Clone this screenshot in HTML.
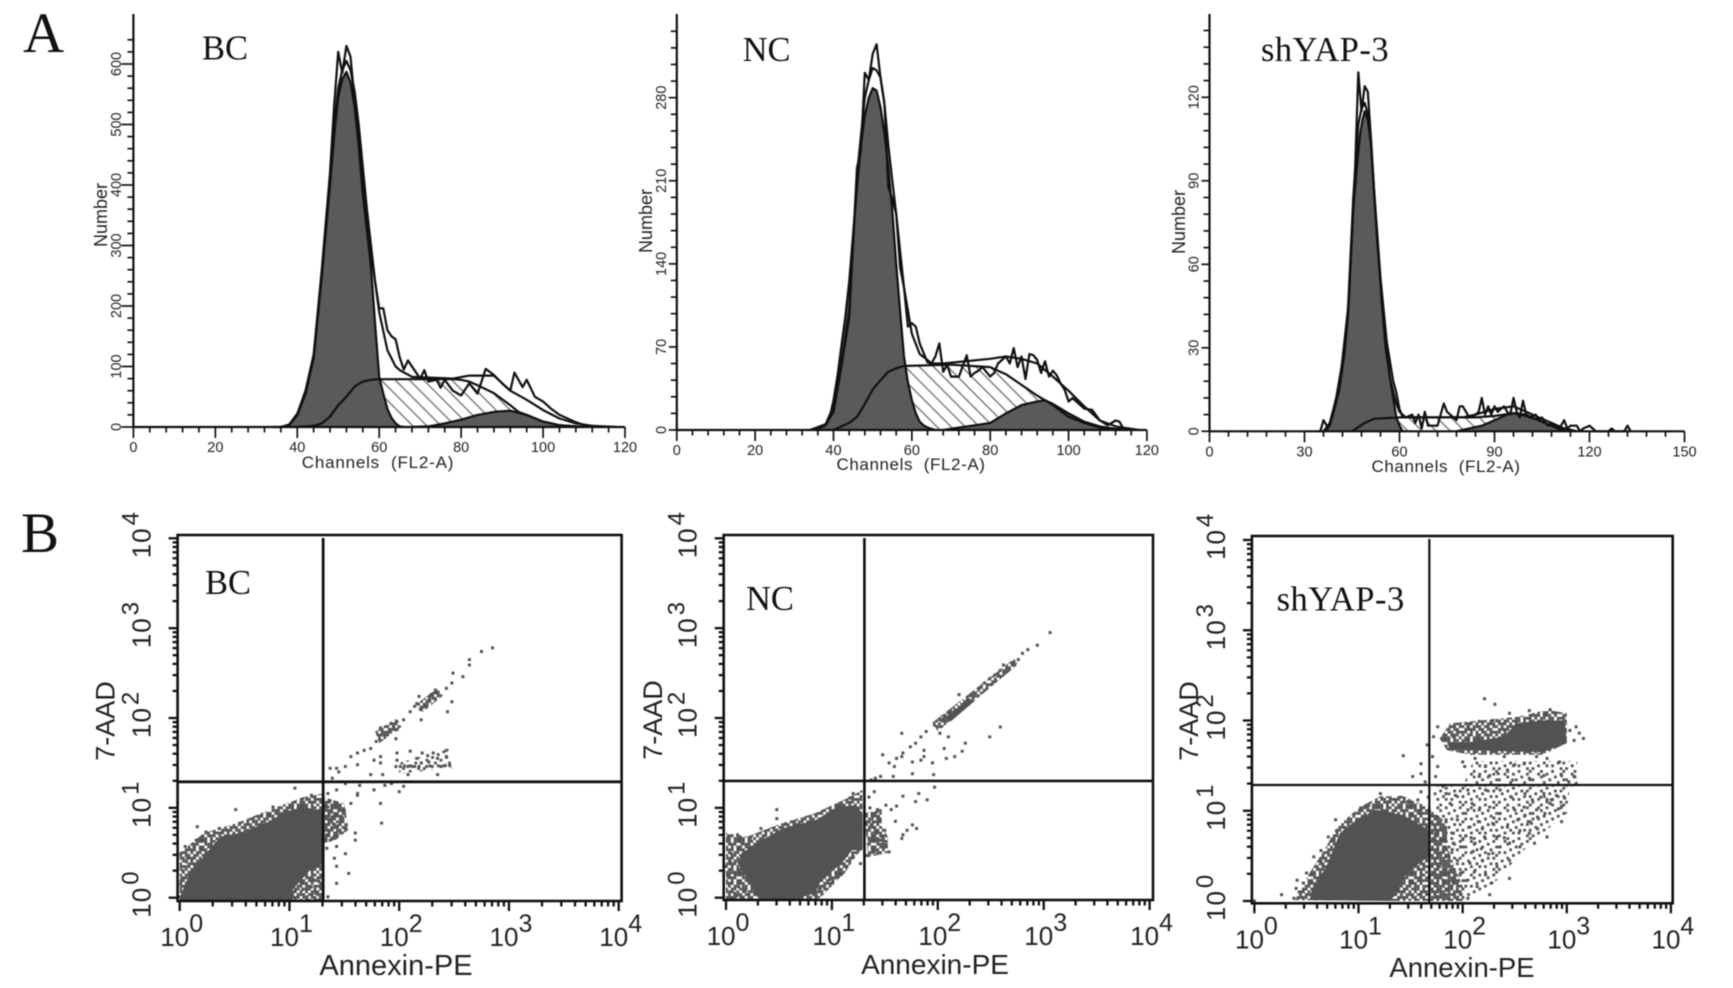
<!DOCTYPE html>
<html lang="en">
<head>
<meta charset="utf-8">
<title>Cell cycle histograms and apoptosis dot plots</title>
<style>
  html, body { margin: 0; padding: 0; background: #fff; }
  svg { display: block; filter: blur(0.45px); }
  .serif { font-family: "Liberation Serif", serif; fill: #111; }
  .sans { font-family: "Liberation Sans", sans-serif; fill: #222; }
</style>
</head>
<body>
<svg id="figure" width="1733" height="988" viewBox="0 0 1733 988" xmlns="http://www.w3.org/2000/svg">
  <defs>
    <pattern id="hatch" patternUnits="userSpaceOnUse" width="10" height="10" patternTransform="rotate(-45)">
      <rect width="10" height="10" fill="#fff"></rect>
      <rect x="0" y="0" width="1.5" height="10" fill="#808080"></rect>
    </pattern>
    <pattern id="stipple" patternUnits="userSpaceOnUse" width="33.6" height="33.6"></pattern>
    <pattern id="stipple-sparse" patternUnits="userSpaceOnUse" width="33.6" height="33.6"></pattern>
  </defs>
  <rect width="1733" height="988" fill="#fff"></rect>

  <text class="serif" x="23" y="52" font-size="57">A</text>
  <text class="serif" x="21" y="552" font-size="57">B</text>

  <g id="hist-bc">
    <text class="serif" x="202" y="59.5" font-size="34.5">BC</text>
    <text class="sans" x="378" y="468" font-size="17" text-anchor="middle" letter-spacing="0.8" xml:space="preserve">Channels  (FL2-A)</text>
    <text class="sans" transform="translate(107,215) rotate(-90)" font-size="18" text-anchor="middle">Number</text>
  </g>
  <g id="hist-nc">
    <text class="serif" x="742.6" y="61" font-size="34.5">NC</text>
    <text class="sans" x="911" y="470" font-size="17" text-anchor="middle" letter-spacing="0.6" xml:space="preserve">Channels  (FL2-A)</text>
    <text class="sans" transform="translate(652,221) rotate(-90)" font-size="18" text-anchor="middle">Number</text>
  </g>
  <g id="hist-sh">
    <text class="serif" x="1261" y="61" font-size="34.5" letter-spacing="0.5">shYAP-3</text>
    <text class="sans" x="1446" y="472" font-size="17" text-anchor="middle" letter-spacing="0.6" xml:space="preserve">Channels  (FL2-A)</text>
    <text class="sans" transform="translate(1185,222) rotate(-90)" font-size="18" text-anchor="middle">Number</text>
  </g>

  <g id="dot-bc">
    <text class="sans" x="396" y="975" font-size="29" text-anchor="middle">Annexin-PE</text>
    <text class="sans" transform="translate(114.5,721) rotate(-90)" font-size="27" text-anchor="middle">7-AAD</text>
  </g>
  <g id="dot-nc">
    <text class="sans" x="935" y="974" font-size="28" text-anchor="middle">Annexin-PE</text>
    <text class="sans" transform="translate(662,720) rotate(-90)" font-size="27" text-anchor="middle">7-AAD</text>
  </g>
  <g id="dot-sh">
    <text class="sans" x="1462" y="977" font-size="27.5" text-anchor="middle">Annexin-PE</text>
    <text class="sans" transform="translate(1198,721) rotate(-90)" font-size="27" text-anchor="middle">7-AAD</text>
  </g>
  <g id="dot-labels"></g>
</svg>

<script>
/* ---------- Panel A: BC histogram ---------- */
const bcG1Ch = [34,36,38,40,42,44,46,48,49,50,51,52,53,54,55,56,57,58,59,60,61,62,63,64,65,66];
const bcG1 = [0,0,3,20,55,115,250,400,480,545,575,587,570,530,465,385,325,265,170,83,55,30,15,6,1,0];
const bcSCh = [40,44,46,48,50,52,54,56,58,60,70,78,80,82,84,88,92,94,96,100,104,108,110];
const bcS = [0,2,6,17,36,50,67,75,78,79,79,79,78,75,69,56,36,25,20,9,3,1,0];
const bcG2Ch = [68,72,76,80,84,88,92,96,100,104,108,110];
const bcG2 = [0,1,6,12,20,25,27,20,9,3,1,0];
const bcFitCh = [36,38,40,42,44,46,48,49,50,51,52,53,54,55,56,57,58,59,60,62,64,65,68,78,82,88,92,96,100,104,108,112,118];
const bcFit = [0,3,20,55,115,255,410,495,560,590,605,590,555,500,430,360,300,240,190,127,100,94,83,80,85,85,60,45,28,14,6,2,0];
const bcRawCh = [36,38,40,42,44,46,48,49,50,51,52,53,54,55,56,57,58,59,60,61,62,63,64,65,66,67,68,70,71,72,74,75,76,78,80,82,84,86,88,90,92,93,95,96,98,100,102,104,106,108,110,112,114];
const bcRaw = [0,4,22,60,120,260,420,530,620,585,630,612,540,480,400,345,290,240,196,196,160,150,145,115,95,110,100,80,94,75,78,65,78,60,52,72,55,96,86,72,60,90,66,78,50,42,30,20,14,8,3,2,0];
const bcYTicks = ["0","100","200","300","400","500","600"];
const bcXTicks = ["0","20","40","60","80","100","120"];

/* ---------- Panel A: NC histogram ---------- */
const ncG1Ch = [34,36,38,39,40,41,42,43,44,45,46,47,48,49,50,51,52,53,54,55,56,57,58,59,60,61,62,63,64,65,66];
const ncG1 = [0,1,4,10,25,45,70,95,125,165,205,240,265,280,288,286,272,250,222,185,140,100,62,40,25,14,7,4,2,1,0];
const ncSCh = [40,44,46,48,50,52,54,56,58,59,70,80,82,84,88,92,96,100,104,108,112];
const ncS = [0,6,11,22,34,42,49,52,54,54,55,53,50,47,38,29,21,11,6,2,0];
const ncG2Ch = [68,72,76,80,84,88,92,94,96,100,104,108,112,116];
const ncG2 = [0,2,4,6,14,21,24,25,22,14,7,3,1,0];
const ncFitCh = [34,38,40,42,44,46,48,49,50,51,52,53,54,55,56,58,60,62,64,65,68,80,84,88,92,96,100,104,108,112,116,118];
const ncFit = [0,5,20,55,100,215,280,295,305,303,297,275,240,210,182,120,81,64,59,56,56,60,62,60,56,45,33,20,8,3,1,0];
const ncRawCh = [36,38,40,42,44,46,47,48,49,50,51,52,53,54,55,56,57,58,59,60,61,62,63,64,65,66,67,68,69,70,72,74,75,76,77,78,80,81,82,84,85,86,87,88,89,90,91,92,93,94,95,96,97,98,99,100,101,102,104,106,108,110,112,113,114];
const ncRaw = [0,5,15,53,95,221,235,301,295,317,325,297,275,205,195,182,137,120,87,90,87,73,65,57,56,62,73,49,55,45,45,63,45,48,50,53,45,48,56,62,56,69,53,62,43,64,63,59,48,58,45,50,46,39,34,24,27,24,18,17,8,4,8,7,1];
const ncYTicks = ["0","70","140","210","280"];
const ncXTicks = ["0","20","40","60","80","100","120"];

/* ---------- Panel A: shYAP-3 histogram ---------- */
const shG1Ch = [36,37.4,39,41,42.5,43.7,45.4,46.5,47.6,48.3,49,50,51,52,53.3,54.5,55.6,57.3,59,60,61];
const shG1 = [0,1,6,15,27,41,80,95,107,112,115,112,103,85,64,45,30,17,5,2,0];
const shSCh = [45,49,52,60,84,90,96,100,104,108,112];
const shS = [0,3,4.5,5,5,5.5,6.5,6,4,2,0];
const shG2Ch = [78,82,86,90,94,96,100,104,108,112,116];
const shG2 = [0,1,2,4,6,6.5,5.5,4,2,1,0];
const shFitCh = [36,38,41,43.7,45.4,47,48,49,50,51,53,55.6,57,59,60,62,80,84,90,96,100,104,108,112,116];
const shFit = [0,3,16,43,84,110,116,118,114,104,68,33,19,10,7,5,5,6,8,9,7,5,3,1,0];
const shRawCh = [34,35,36,37,38,40,42,44,46,47,48,49,50,51,52,54,56,58,59,60,61,62,64,65,66,67,68,69,70,72,74,75,76,78,79,80,82,84,85,86,87,88,89,90,91,92,93,94,95,96,97,98,99,100,101,103,104,105,106,107,108,110,111,112,113,114,115,116,117,118,120,121,122,126,127,128,131,132,133];
const shRaw = [0,0,4,2,2,12,25,47,95,129,115,124,122,105,86,55,32,18,14,8,5,5,6,3,6,1,7,2,2,2,10,7,6,4,9,9,5,6,7,12,6,9,6,9,7,8,9,7,6,12,7,5,11,6,5,6,4,5,3,2,3,1,2,4,1,2,2,2,0,1,2,1,0,0,1,0,0,2,0];
const shYTicks = ["0","30","60","90","120"];
const shXTicks = ["0","30","60","90","120","150"];

/* ---------- Panel B: dot plots, values in log10 decades ---------- */
const decadeExponents = ["0","1","2","3","4"];

const bcFringeX = [0,0.22,0.52,0.82,1.13,1.31,1.31,1.03,0];
const bcFringeY = [0.5,0.72,0.83,0.98,1.12,1.16,-0.03,-0.03,-0.03];
const bcRightClusterX = [1.31,1.5,1.52,1.54,1.43,1.32];
const bcRightClusterY = [1.12,1.05,0.9,0.76,0.65,0.61];
const bcBandUpperX = [2.15,2.35,2.4,2.2];
const bcBandUpperY = [2.15,2.33,2.25,2.05];
const bcBandMidX = [1.78,1.98,2.02,1.82];
const bcBandMidY = [1.85,2.0,1.9,1.72];
const bcBandLowX = [2.0,2.45,2.48,2.0];
const bcBandLowY = [1.5,1.66,1.44,1.38];
const bcBlobX = [0,0.09,0.22,0.37,0.58,0.82,0.97,1.13,1.31,1.31,1.19,1.03,1.03,0];
const bcBlobY = [0,0.27,0.46,0.68,0.73,0.85,0.96,1.01,0.96,0.38,0.31,0.09,-0.03,-0.03];
const bcDotX = [2.85,2.75,2.64,2.64,2.49,2.58,2.48,2.43,2.33,2.29,2.35,2.27,2.31,2.18,2.16,2.2,2.1,2.14,2.2,2.48,2.44,2.04,1.95,1.91,1.98,1.83,1.87,1.97,1.79,1.74,1.68,1.62,1.56,1.83,1.77,1.83,1.62,1.51,1.43,1.37,1.45,
  2.1,2.21,2.31,2.43,2.43,2.35,2.27,2.2,2.14,2.04,2.46,2.35,2.08,1.98,1.98,1.85,1.74,1.93,1.87,1.77,2.04,2.0,1.83,1.84,1.62,1.64,1.51,1.39,1.97,2.01,2.08,2.12,2.18,2.25,2.3,2.38,2.42,2.26,2.16,
  1.35,1.43,1.49,1.39,1.47,1.39,1.51,1.43,1.37,1.43,1.51,1.41,1.43,1.54,1.43,1.35,1.6,1.6,1.56,1.62,1.35,1.43,1.38,1.42,1.36,1.45,1.4,1.34,1.48,1.37,1.44,1.34,1.5,1.4,
  1.05,1.2,1.12,0.85,0.51,0.7,0.16,0.24,0.36,0.55,0.15,0.05,0.01,0.07,0.01,0.05,0,0.13,0.03,0.1,0.02,0.06,
  1.12,1.2,1.24,1.28,1.16,1.08,1.22,1.27];
const bcDotY = [2.78,2.74,2.65,2.59,2.5,2.46,2.39,2.33,2.31,2.26,2.29,2.2,2.22,2.24,2.16,2.11,2.07,2.13,1.98,2.18,2.07,1.98,1.9,1.87,1.87,1.89,1.81,1.77,1.74,1.66,1.64,1.61,1.57,1.57,1.53,1.5,1.48,1.46,1.44,1.44,1.4,
  1.63,1.61,1.61,1.64,1.57,1.55,1.51,1.5,1.46,1.44,1.47,1.37,1.37,1.61,1.53,1.37,1.37,1.27,1.25,1.2,1.24,1.18,1.05,0.83,1.16,1.25,1.27,1.33,1.46,1.46,1.46,1.46,1.46,1.46,1.46,1.46,1.47,1.58,1.55,
  1.01,1.05,0.99,0.9,0.86,0.77,0.75,0.72,0.64,0.57,0.49,0.44,0.35,0.27,0.16,0.01,0.72,0.64,1.05,1.14,1.16,1.2,0.95,0.93,0.87,0.97,0.82,0.7,0.9,1.08,0.8,0.55,0.97,0.67,
  1.22,1.14,1.1,1.01,0.98,0.85,0.79,0.73,0.77,0.83,0.64,0.57,0.49,0.44,0.16,0.05,0.01,0.57,0.3,0.25,0.22,0.4,
  0.09,0.12,0.05,0,0.01,0.03,0.2,0.18];

const ncFringeX = [0,0.2,0.53,0.84,1.15,1.29,1.29,1.22,1.12,0.9,0.84,0];
const ncFringeY = [0.72,0.68,0.83,0.94,1.11,1.2,0.55,0.45,0.27,0.01,-0.03,-0.03];
const ncRightClusterX = [1.31,1.47,1.47,1.53,1.53,1.34];
const ncRightClusterY = [0.94,1.0,0.79,0.68,0.5,0.45];
const ncBandStippleX = [1.95,2.72,2.76,2.0];
const ncBandStippleY = [1.95,2.66,2.6,1.85];
const ncBandSolidX = [2.08,2.3,2.34,2.12];
const ncBandSolidY = [2.0,2.22,2.18,1.96];
const ncBlobX = [0.3,0.21,0.11,0.15,0.34,0.53,0.84,1.06,1.22,1.29,1.29,1.19,1.09,0.9,0.84,0.6];
const ncBlobY = [0,0.2,0.38,0.5,0.64,0.77,0.86,1.01,1.03,0.94,0.53,0.53,0.38,0.2,0.05,-0.03];
const ncDotX = [3.06,2.94,2.85,2.8,2.76,2.72,2.62,2.59,2.54,2.49,2.44,2.39,2.34,2.29,2.24,2.2,2.16,2.11,2.08,2.02,1.97,1.89,1.84,1.79,1.74,1.67,1.66,1.61,1.59,1.54,1.48,1.46,1.41,1.37,
  2.59,2.49,2.26,2.23,2.16,2.08,2.06,2.1,2.02,1.95,1.96,1.97,1.87,1.84,1.87,1.76,1.76,1.66,1.58,2.32,2.3,2.27,2.13,2.12,2.05,
  1.79,1.82,1.9,1.67,1.61,1.56,1.51,1.6,1.76,1.8,1.71,1.67,1.66,
  1.4,1.35,1.43,1.38,1.45,1.37,1.5,1.41,1.35,1.46,1.51,1.4,1.54,1.33,1.27,1.2,1.14,1.06,0.98,0.89,0.85,1.2,1.17,1.42,1.36,1.44,1.39,1.47,
  0.48,0.48,0.11,0.33,0.23,0.02,0.05,0.15,0,0.03,0.08,0.15,0.02,0.65,0.85,1.04,0.06,0.12,0.04,0.1,0.18];
const ncDotY = [2.95,2.81,2.76,2.72,2.65,2.62,2.59,2.53,2.48,2.44,2.39,2.33,2.24,2.2,2.14,2.26,2.09,2.03,2.01,1.98,1.92,1.85,1.79,1.72,1.68,1.61,1.83,1.55,1.46,1.5,1.59,1.35,1.33,1.31,
  1.9,1.79,1.72,1.63,1.57,1.55,1.66,1.79,1.83,1.5,1.37,1.23,1.57,1.53,1.64,1.51,1.38,1.57,1.35,2.25,2.19,2.17,2.05,2.07,1.99,
  1.07,1.16,1.09,1.13,1.02,0.98,1.03,0.85,0.81,0.77,0.75,0.7,0.66,
  1.18,1.12,0.98,0.92,0.86,0.81,0.75,0.72,0.66,0.64,0.59,0.51,0.51,0.47,0.38,0.46,0.35,0.23,0.2,0.1,0.01,1.16,1.11,0.95,1.0,0.9,0.84,0.68,
  0.98,0.88,0.7,0.77,0.66,0.68,0.49,0.6,0.35,0.16,0.05,0.01,0.23,0.85,0.92,1.03,0.28,0.12,0.4,0.02,0.07];

const shFringeX = [0.39,0.53,0.69,0.79,1.01,1.21,1.43,1.67,1.85,1.85,2.0,2.0,1.3];
const shFringeY = [0.01,0.31,0.6,0.82,1.04,1.16,1.16,1.04,0.86,0.6,0.16,0,0];
const shBandFringeX = [1.78,1.88,2.17,2.52,2.81,3.0,3.0,2.77,2.07,1.85];
const shBandFringeY = [1.8,1.97,2.0,2.04,2.12,2.08,1.75,1.62,1.62,1.67];
const shScatterX = [1.72,3.03,3.0,2.65,2.33,2.04,1.72];
const shScatterY = [1.27,1.27,0.97,0.64,0.23,0.01,0.01];
const shScatterUpperX = [2.1,3.1,3.1,2.0];
const shScatterUpperY = [1.55,1.55,1.27,1.27];
const shBlobX = [0.53,0.55,0.69,0.82,0.98,1.17,1.43,1.67,1.67,1.46,1.37,1.3];
const shBlobY = [0.01,0.12,0.38,0.75,0.9,1.01,0.95,0.79,0.49,0.31,0.09,0];
const shBandX = [1.85,2.07,2.39,2.52,2.77,2.98,3.0,2.77,2.07,1.88];
const shBandY = [1.76,1.76,1.82,1.97,2.0,2.0,1.75,1.65,1.67,1.67];
const shDotX = [2.21,2.31,2.45,2.64,2.84,3.09,3.12,3.16,3.07,3.03,1.88,1.95,2.05,2.16,2.29,1.91,1.76,1.72,1.66,1.43,1.6,1.71,1.76,1.74,
  2.0,2.02,2.12,2.22,2.4,2.5,2.59,2.71,2.81,2.93,2.16,2.26,2.34,2.43,2.48,2.64,2.78,2.95,3.07,3.02,3.09,1.52,1.6,1.64,1.6,1.67,
  1.81,1.84,1.93,1.88,2.05,2.22,2.36,2.47,2.6,2.78,2.81,2.9,2.98,2.95,2.81,2.69,
  2.09,2.05,2.16,2.26,2.36,2.5,2.59,2.71,2.79,2.84,2.53,2.66,2.72,2.43,2.29,2.19,2.07,1.95,1.84,1.76,1.81,1.91,1.74,1.81,1.91,2.0,2.12,2.1,2.21,2.33,2.36,2.29,2.45,2.45,2.55,2.64,2.19,2.07,1.95,1.84,1.76,1.78,1.88,1.98,2.12,2.22,2.33,2.45,1.81,1.91,2.05,2.14,2.28,2.26,2.05,1.95,1.76,1.84,
  2.95,2.6,2.72,2.67,2.85,2.75,2.92,2.55,2.63,2.4,2.3,2.15,2.03,2.18,2.25,1.9,1.98,2.08,
  1.21,1.1,1.4,1.47,1.57,1.6,1.02,1.29,0.78,0.71,0.64,0.57,0.64,0.5,0.41,0.4,0.47,0.26,0.38,0.43,0];
const shDotY = [2.24,2.18,2.08,2.11,2.12,1.93,1.86,1.8,1.78,1.89,1.93,1.89,1.93,1.99,2.0,1.82,1.93,1.82,1.73,1.61,1.52,1.6,1.49,1.38,
  1.54,1.49,1.58,1.49,1.6,1.51,1.52,1.6,1.58,1.54,1.38,1.39,1.41,1.45,1.34,1.36,1.39,1.39,1.38,1.32,1.3,1.38,1.41,1.32,1.21,1.15,
  1.27,1.19,1.17,1.08,1.23,1.23,1.23,1.15,1.19,1.19,1.1,1.17,1.14,0.88,0.71,0.64,
  1.08,1.01,1.01,1.04,0.97,1.01,1.04,1.01,0.97,1.08,0.9,0.86,0.8,0.82,0.86,0.8,0.82,0.9,0.9,0.93,0.8,0.75,0.75,0.68,0.64,0.68,0.64,0.55,0.71,0.71,0.6,0.53,0.64,0.45,0.6,0.75,0.45,0.42,0.45,0.49,0.53,0.38,0.34,0.31,0.34,0.29,0.38,0.25,0.23,0.2,0.23,0.16,0.2,0.07,0.03,0.03,0.05,0.12,
  1.05,0.95,0.93,1.12,1.12,1.15,1.02,0.78,0.88,0.7,0.92,0.88,0.72,0.58,0.52,0.57,0.6,0.7,
  1.19,1.06,1.15,1.1,1.12,1.03,1.03,1.1,0.9,0.71,0.56,0.49,0.44,0.31,0.23,0.14,0.2,0.07,0.03,0.1,0];

/* Texture bitmaps for the sparse parts of the dot clouds */
const denseTexture = ["110110111011","011101101110","101111010101","110100111101","011011101011","111010110110","010111011101","101101101011","110110011110","011011110101","101110101101","110101011011"];
const sparseTexture = ["100001000100","000100000010","010000110000","000010000001","001000010100","100000100000","000101000010","010000001000","000010100001","101000000100","000001010000","001000100010"];

/* ---------- Drawing helpers ---------- */
const svgNS = "http://www.w3.org/2000/svg";
function el(parent, tag, attrs, text) {
  const node = document.createElementNS(svgNS, tag);
  for (const k in attrs) node.setAttribute(k, attrs[k]);
  if (text !== undefined) node.textContent = text;
  parent.appendChild(node);
  return node;
}
function buildTexture(id, rows) {
  const pattern = document.getElementById(id);
  rows.forEach((row, r) => {
    row.split("").forEach((bit, c) => {
      if (bit === "1") el(pattern, "rect", { x: c * 2.8, y: r * 2.8, width: 2.8, height: 2.8, fill: "#525252" });
    });
  });
}
buildTexture("stipple", denseTexture);
buildTexture("stipple-sparse", sparseTexture);

function linePath(chs, vals, sx, sy) {
  return chs.map((c, i) => (i ? "L" : "M") + sx(c).toFixed(1) + " " + sy(vals[i]).toFixed(1)).join("");
}
function areaPath(chs, vals, sx, sy, zero) {
  return "M" + sx(chs[0]).toFixed(1) + " " + sy(zero).toFixed(1) +
    chs.map((c, i) => "L" + sx(c).toFixed(1) + " " + sy(vals[i]).toFixed(1)).join("") +
    "L" + sx(chs[chs.length - 1]).toFixed(1) + " " + sy(zero).toFixed(1) + "Z";
}

function drawHistogram(id, g) {
  const root = document.getElementById(id);
  const xMax = +g.xTicks[g.xTicks.length - 1];
  const sx = c => g.x0 + (g.x1 - g.x0) * c / xMax;
  const sy = v => g.y0 - v * g.yPerUnit;

  const sArea = el(root, "path", { d: areaPath(g.sCh, g.s, sx, sy, 0), fill: "url(#hatch)" });
  
  
  const g1Area = el(root, "path", { d: areaPath(g.g1Ch, g.g1, sx, sy, 0), fill: "#5a5a5a" });
  
  
  const g2Area = el(root, "path", { d: areaPath(g.g2Ch, g.g2, sx, sy, 0), fill: "#5a5a5a" });
  
  

  const base = { fill: "none", stroke: "#111", "stroke-width": 2.2, "stroke-linejoin": "round" };
  const sLine = el(root, "path", Object.assign({ d: linePath(g.sCh, g.s, sx, sy) }, base));
  
  
  const g1Line = el(root, "path", Object.assign({ d: linePath(g.g1Ch, g.g1, sx, sy) }, base));
  
  
  const g2Line = el(root, "path", Object.assign({ d: linePath(g.g2Ch, g.g2, sx, sy) }, base));
  
  
  const fitLine = el(root, "path", Object.assign({ d: linePath(g.fitCh, g.fit, sx, sy) }, base));
  
  
  const rawLine = el(root, "path", Object.assign({ d: linePath(g.rawCh, g.raw, sx, sy) }, base));
  
  

  const xAxis = el(root, "line", { x1: sx(0), x2: sx(xMax), y1: g.y0, y2: g.y0, stroke: "#111", "stroke-width": 2.2 });
  
  
  const yAxis = el(root, "line", { x1: sx(0), x2: sx(0), y1: g.top, y2: g.y0, stroke: "#111", "stroke-width": 2.2 });
  
  

  const xStep = +g.xTicks[1] / 5;
  for (let i = 0; i * xStep <= xMax + 1e-6; i++) {
    const major = i % 5 === 0;
    const t = el(root, "line", { x1: sx(i * xStep), x2: sx(i * xStep), y1: g.y0, y2: g.y0 + (major ? 11 : 5.5), stroke: "#111", "stroke-width": 1.7 });
    
    
  }
  g.xTicks.forEach(label => {
    const t = el(root, "text", { x: sx(+label), y: g.y0 + 25, "font-size": 14.5, "text-anchor": "middle", class: "sans" }, label);
    
    
  });
  const yStep = +g.yTicks[1] / 5;
  for (let i = 0; sy(i * yStep) >= g.top + 14; i++) {
    const major = i % 5 === 0;
    const t = el(root, "line", { x1: sx(0) - (major ? g.yMajor : 6), x2: sx(0), y1: sy(i * yStep), y2: sy(i * yStep), stroke: "#111", "stroke-width": 1.7 });
    
    
  }
  g.yTicks.forEach(label => {
    const px = sx(0) - g.yLabelOffset, py = sy(+label);
    const t = el(root, "text", { transform: "translate(" + px + "," + py + ") rotate(-90)", "font-size": 14.5, "text-anchor": "middle", class: "sans" }, label);
    
    
  });
}

function drawDotPlot(id, g) {
  const root = document.getElementById(id);
  const sx = d => g.x0 + (g.x4 - g.x0) * d / 4;
  const sy = d => g.y0 + (g.y4 - g.y0) * d / 4;

  g.fringes.forEach(b => {
    const pts = b.x.map((d, i) => sx(d).toFixed(1) + "," + sy(b.y[i]).toFixed(1)).join(" ");
    const fringe = el(root, "polygon", { points: pts, fill: "url(#" + b.fill + ")" });
    
    
  });
  g.blobs.forEach(b => {
    const pts = b.x.map((d, i) => sx(d).toFixed(1) + "," + sy(b.y[i]).toFixed(1)).join(" ");
    const blob = el(root, "polygon", { points: pts, fill: "#525252" });
    
    
  });
  g.dotX.forEach((d, i) => {
    const dot = el(root, "rect", { x: (sx(d) - 1.5).toFixed(1), y: (sy(g.dotY[i]) - 1.5).toFixed(1), width: 3, height: 3, fill: "#555" });
    
    
  });

  const box = el(root, "rect", { x: g.left, y: g.top, width: g.right - g.left, height: g.bottom - g.top, fill: "none", stroke: "#111", "stroke-width": 2.6 });
  
  
  const qv = el(root, "line", { x1: sx(g.gateX), x2: sx(g.gateX), y1: g.top + 3, y2: g.bottom, stroke: "#111", "stroke-width": g.gateWidth });
  
  
  const qh = el(root, "line", { x1: g.left, x2: g.right, y1: sy(g.gateY), y2: sy(g.gateY), stroke: "#111", "stroke-width": g.gateWidth });
  
  

  for (let dec = 0; dec < 4; dec++) {
    for (let m = 1; m <= 9; m++) {
      const off = dec + Math.log10(m);
      const major = m === 1;
      const tx = el(root, "line", { x1: sx(off), x2: sx(off), y1: g.bottom, y2: g.bottom + (major ? 10 : 5.5), stroke: "#111", "stroke-width": 2.3 });
      
      
      const ty = el(root, "line", { x1: g.left - (major ? 9 : 5), x2: g.left, y1: sy(off), y2: sy(off), stroke: "#111", "stroke-width": 2.3 });
      
      
    }
  }
  const topX = el(root, "line", { x1: sx(4), x2: sx(4), y1: g.bottom, y2: g.bottom + 10, stroke: "#111", "stroke-width": 2.3 });
  
  
  const topY = el(root, "line", { x1: g.left - 9, x2: g.left, y1: sy(4), y2: sy(4), stroke: "#111", "stroke-width": 2.3 });
  
  

  decadeExponents.forEach((exp, i) => {
    const tx = el(root, "text", { x: sx(i) + 2, y: g.bottom + 45, "font-size": 26, "text-anchor": "middle", class: "sans" }, "10");
    const sup = el(tx, "tspan", { dy: -14, "font-size": 25 }, exp);
    
    
    const ty = el(root, "text", { transform: "translate(" + (g.left - 27) + "," + (sy(i) + 20) + ") rotate(-90)", "font-size": 26, class: "sans", "letter-spacing": 1 }, "10");
    const supY = el(ty, "tspan", { dy: -12, dx: 2, "font-size": 24 }, exp);
    
    
  });
}

/* ---------- Render panels ---------- */
drawHistogram("hist-bc", {
  x0: 133.4, x1: 625, y0: 427, top: 14, yPerUnit: (427 - 64) / 600, yMajor: 12, yLabelOffset: 12.5,
  xTicks: bcXTicks, yTicks: bcYTicks,
  g1Ch: bcG1Ch, g1: bcG1, sCh: bcSCh, s: bcS, g2Ch: bcG2Ch, g2: bcG2,
  fitCh: bcFitCh, fit: bcFit, rawCh: bcRawCh, raw: bcRaw
});
drawHistogram("hist-nc", {
  x0: 676.8, x1: 1146.9, y0: 430, top: 14, yPerUnit: (430 - 97.7) / 280, yMajor: 8, yLabelOffset: 11,
  xTicks: ncXTicks, yTicks: ncYTicks,
  g1Ch: ncG1Ch, g1: ncG1, sCh: ncSCh, s: ncS, g2Ch: ncG2Ch, g2: ncG2,
  fitCh: ncFitCh, fit: ncFit, rawCh: ncRawCh, raw: ncRaw
});
drawHistogram("hist-sh", {
  x0: 1209.5, x1: 1684.5, y0: 431.3, top: 14, yPerUnit: (431.3 - 97.3) / 120, yMajor: 8, yLabelOffset: 11,
  xTicks: shXTicks, yTicks: shYTicks,
  g1Ch: shG1Ch, g1: shG1, sCh: shSCh, s: shS, g2Ch: shG2Ch, g2: shG2,
  fitCh: shFitCh, fit: shFit, rawCh: shRawCh, raw: shRaw
});
drawDotPlot("dot-bc", {
  left: 177.6, right: 621.6, top: 535, bottom: 901, x0: 179.7, x4: 618.7, y0: 897.7, y4: 538.3,
  gateX: 1.307, gateY: 1.29, gateWidth: 2.8,
  fringes: [
    { x: bcFringeX, y: bcFringeY, fill: "stipple" },
    { x: bcRightClusterX, y: bcRightClusterY, fill: "stipple" },
    { x: bcBandUpperX, y: bcBandUpperY, fill: "stipple" },
    { x: bcBandMidX, y: bcBandMidY, fill: "stipple" },
    { x: bcBandLowX, y: bcBandLowY, fill: "stipple-sparse" }
  ],
  blobs: [{ x: bcBlobX, y: bcBlobY }], dotX: bcDotX, dotY: bcDotY
});
drawDotPlot("dot-nc", {
  left: 723.7, right: 1153, top: 535, bottom: 900, x0: 726, x4: 1149.6, y0: 897.7, y4: 538.3,
  gateX: 1.307, gateY: 1.3, gateWidth: 2.6,
  fringes: [
    { x: ncFringeX, y: ncFringeY, fill: "stipple" },
    { x: ncRightClusterX, y: ncRightClusterY, fill: "stipple" },
    { x: ncBandStippleX, y: ncBandStippleY, fill: "stipple" }
  ],
  blobs: [{ x: ncBlobX, y: ncBlobY }, { x: ncBandSolidX, y: ncBandSolidY }], dotX: ncDotX, dotY: ncDotY
});
drawDotPlot("dot-sh", {
  left: 1251.9, right: 1672.7, top: 536, bottom: 903.3, x0: 1254.4, x4: 1670.9, y0: 901, y4: 540,
  gateX: 1.68, gateY: 1.285, gateWidth: 2.2,
  fringes: [
    { x: shScatterX, y: shScatterY, fill: "stipple-sparse" },
    { x: shScatterUpperX, y: shScatterUpperY, fill: "stipple-sparse" },
    { x: shFringeX, y: shFringeY, fill: "stipple" },
    { x: shBandFringeX, y: shBandFringeY, fill: "stipple" }
  ],
  blobs: [{ x: shBlobX, y: shBlobY }, { x: shBandX, y: shBandY }], dotX: shDotX, dotY: shDotY
});

/* Sample labels sit on top of the dot plots */
const labelGroup = document.getElementById("dot-labels");
const sampleLabelBC = el(labelGroup, "text", { x: 205, y: 594, "font-size": 34.5, class: "serif" }, "BC");


const sampleLabelNC = el(labelGroup, "text", { x: 746, y: 610, "font-size": 34.5, class: "serif" }, "NC");


const sampleLabelSH = el(labelGroup, "text", { x: 1276.6, y: 610.5, "font-size": 34.5, "letter-spacing": 0.5, class: "serif" }, "shYAP-3");


</script>
</body>
</html>
